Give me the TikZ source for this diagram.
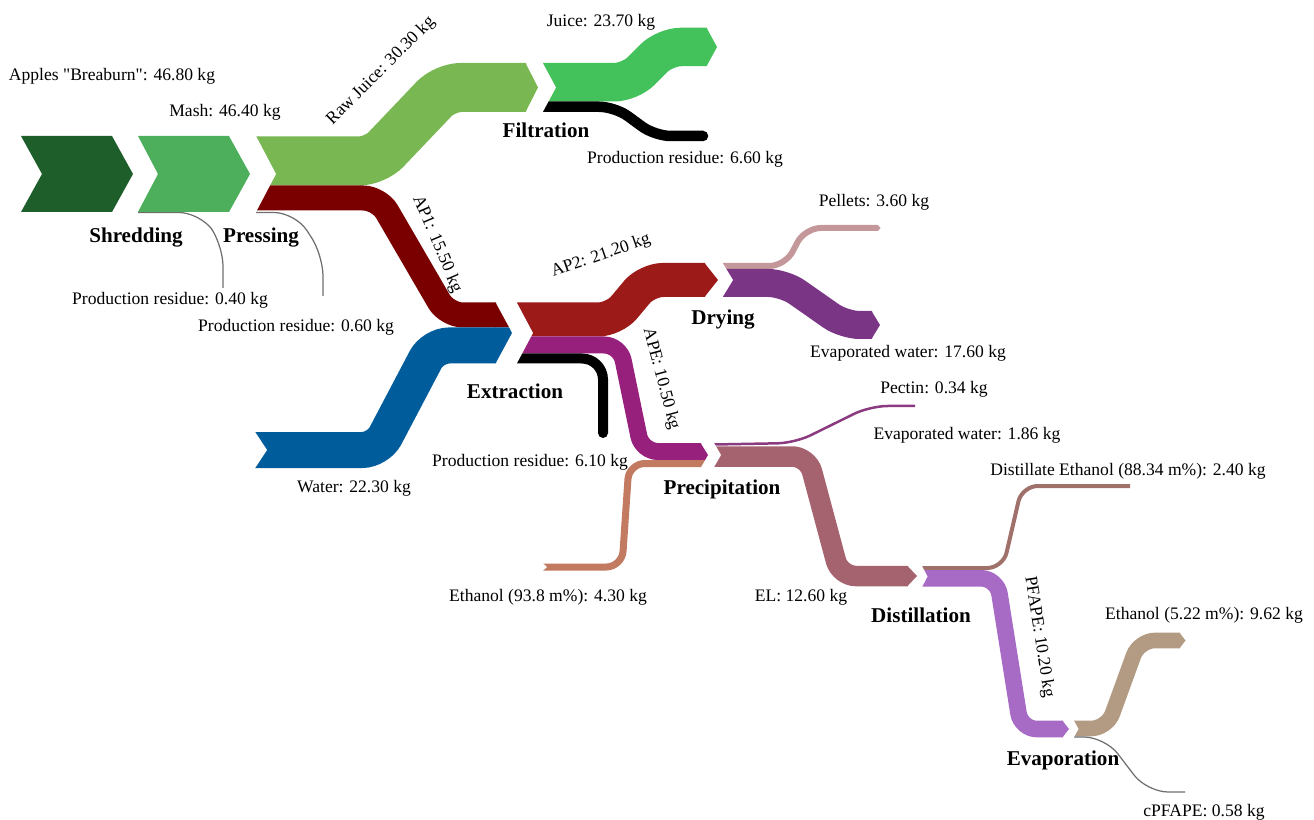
\documentclass[tikz,border=0pt]{standalone}
\usepackage{fontspec}
\setmainfont{Liberation Serif}

\definecolor{apples}{HTML}{1E5E2B}
\definecolor{mash}{HTML}{4DAF5C}
\definecolor{rawjuice}{HTML}{78B751}
\definecolor{juice}{HTML}{43C15A}
\definecolor{apone}{HTML}{7A0000}
\definecolor{water}{HTML}{005C9B}
\definecolor{aptwo}{HTML}{9C1A18}
\definecolor{ape}{HTML}{98207D}
\definecolor{pellets}{HTML}{C4989A}
\definecolor{evapw}{HTML}{7A3585}
\definecolor{etoh}{HTML}{C27A60}
\definecolor{el}{HTML}{A5626F}
\definecolor{distil}{HTML}{A0716A}
\definecolor{pfape}{HTML}{A76BC6}
\definecolor{etohlow}{HTML}{B29A83}
\definecolor{pectin}{HTML}{8B3A7F}
\definecolor{thinres}{HTML}{6E6E6E}

\begin{document}
\begin{tikzpicture}[x=0.02cm,y=-0.02cm,
  flow/.style 2 args={draw=#1,line width=#2*0.02cm,rounded corners=9pt},
  thinflow/.style={draw=thinres,line width=0.7pt,rounded corners=12pt},
  lbl/.style={font=\fontsize{10}{12}\selectfont,inner sep=0pt},
  proc/.style={font=\bfseries\fontsize{12}{14}\selectfont,inner sep=0pt}]

  \useasboundingbox (0,0) rectangle (1314,820);

  % Shredding and pressing
  \fill[apples] (21,136) -- (112,136) -- (133,174) -- (112,212) -- (21,212) -- (42,174) -- cycle;
  \draw[thinflow] (138,212.5) -- (200,212.5) -- (223,245) -- (223,288);
  \fill[mash] (138,136) -- (229,136) -- (250,174) -- (229,212) -- (138,212) -- (158,174) -- cycle;
  \draw[thinflow] (256,212.5) -- (295,212.5) -- (323,255) -- (323,296);

  \draw[flow={rawjuice}{49}] (256,161) -- (375,161) -- (445,87.5) -- (526,87.5);
  \fill[rawjuice] (525.5,63) -- (538,87.5) -- (525.5,112) -- cycle;
  \draw[flow={apone}{25}] (256,198) -- (379,198) -- (447,315) -- (496,315);
  \draw[flow={water}{36}] (255,450) -- (378,450) -- (433,345.5) -- (496,345.5);
  \fill[apone] (495.5,302.5) -- (509.1,327.5) -- (495.5,327.5) -- cycle;
  \fill[water] (495.5,327.5) -- (509.1,327.5) -- (512,333) -- (495.5,363.5) -- cycle;

  % Filtration
  \draw[flow={juice}{38.5}] (543,82.25) -- (630,82.25) -- (665,47) -- (707,47);
  \fill[juice] (706.5,27.75) -- (717,47) -- (706.5,66.25) -- cycle;
  \draw[flow={black}{10.5}] (543,106.75) -- (615,106.75) -- (655,136) -- (703,136);
  \fill[black] (703,136) circle (5.25);

  % Extraction
  \draw[flow={aptwo}{34}] (517,319.5) -- (614,319.5) -- (647,280) -- (705,280);
  \fill[aptwo] (704.5,263) -- (718,280) -- (704.5,297) -- cycle;
  \draw[flow={ape}{17}] (517,345) -- (620,345) -- (642,451.5) -- (701,451.5);
  \draw[flow={black}{10},rounded corners=12pt] (517,358.5) -- (603,358.5) -- (603,433);
  \fill[black] (603,433) circle (5);

  % Drying
  \draw[flow={pellets}{6}] (723,266) -- (785,266) -- (805,228) -- (878,228);
  \fill[pellets] (877.5,225) -- (880.5,228) -- (877.5,231) -- cycle;
  \draw[flow={evapw}{28}] (723,283) -- (784,283) -- (844,325) -- (872,325);
  \fill[evapw] (871.5,311) -- (880,325) -- (871.5,339) -- cycle;

  % Precipitation
  \draw[flow={etoh}{7}] (543,567) -- (622,567) -- (629,463.5) -- (701,463.5);
  \fill[ape] (700.5,443) -- (708,455) -- (705.1,460) -- (700.5,460) -- cycle;
  \fill[etoh] (700.5,460) -- (705.1,460) -- (701,467) -- (700.5,467) -- cycle;
  \draw[flow={pectin}{2.5},rounded corners=10pt] (714,444.5) -- (795,443) -- (870,406) -- (915,406);
  \draw[flow={el}{20.5}] (714,456.5) -- (808,456.5) -- (840,576) -- (908,576);
  \fill[el] (907.5,566) -- (917,576) -- (907.5,586) -- cycle;

  % Distillation
  \draw[flow={distil}{4}] (922,568) -- (1003,568) -- (1022,486) -- (1130,486);
  \draw[flow={pfape}{16.6}] (922,578.3) -- (997,578.3) -- (1021,729) -- (1063,729);
  \fill[pfape] (1062.5,720.7) -- (1069,729) -- (1062.5,737.3) -- cycle;

  % Evaporation
  \draw[flow={etohlow}{15.6}] (1074,728.5) -- (1107,728.5) -- (1139,640.5) -- (1180,640.5);
  \fill[etohlow] (1179.5,632.7) -- (1185.5,640.5) -- (1179.5,648.3) -- cycle;
  \draw[thinflow] (1074,737) -- (1105,737) -- (1147,792) -- (1185,792);

  % notches
  \fill[white] (255.5,135) -- (276,174) -- (255.5,213) -- cycle;
  \fill[white] (254.5,431) -- (267,450) -- (254.5,469) -- cycle;
  \fill[white] (542.5,62.5) -- (556,87.5) -- (542.5,112.5) -- cycle;
  \fill[white] (516.5,302) -- (533,333) -- (516.5,364) -- cycle;
  \fill[white] (722,262) -- (733,280) -- (722,298) -- cycle;
  \fill[white] (542.5,563) -- (547,567) -- (542.5,571) -- cycle;
  \fill[white] (713.5,442) -- (721,455) -- (713.5,468) -- cycle;
  \fill[white] (921.5,565) -- (927.5,576.5) -- (921.5,588) -- cycle;
  \fill[white] (1073.5,720) -- (1078.5,729) -- (1073.5,738) -- cycle;

  % labels
  \node[lbl] (apl) at (112,76) {Apples \textquotedbl Breaburn\textquotedbl: 46.80 kg};
  \node[lbl] (mashl) at (225,112) {Mash: 46.40 kg};
  \node[lbl,rotate=45] (rawl) at (381,71) {Raw Juice: 30.30 kg};
  \node[proc] (shredding) at (136,238) {Shredding};
  \node[proc] (pressing) at (261,238) {Pressing};
  \node[lbl] (resa) at (170,300) {Production residue: 0.40 kg};
  \node[lbl] (resb) at (296,327) {Production residue: 0.60 kg};
  \node[lbl,rotate=-67] (aponel) at (437,244) {AP1: 15.50 kg};
  \node[lbl] (juicel) at (601,22) {Juice: 23.70 kg};
  \node[proc] (filtration) at (546,130) {Filtration};
  \node[lbl] (resc) at (685,159) {Production residue: 6.60 kg};
  \node[lbl] (pelletl) at (874,202) {Pellets: 3.60 kg};
  \node[lbl,rotate=19] (aptwol) at (601,256) {AP2: 21.20 kg};
  \node[proc] (drying) at (723,320) {Drying};
  \node[lbl] (evapa) at (908,353) {Evaporated water: 17.60 kg};
  \node[lbl] (pectinl) at (934,389) {Pectin: 0.34 kg};
  \node[lbl] (evapb) at (967,435) {Evaporated water: 1.86 kg};
  \node[proc] (extraction) at (515,391) {Extraction};
  \node[lbl] (resd) at (530,462) {Production residue: 6.10 kg};
  \node[lbl] (waterl) at (354,488) {Water: 22.30 kg};
  \node[lbl,rotate=-75] (apel) at (661,379) {APE: 10.50 kg};
  \node[proc] (precipitation) at (722,489) {Precipitation};
  \node[lbl] (etohinl) at (548,597) {Ethanol (93.8 m\%): 4.30 kg};
  \node[lbl] (ell) at (801,597) {EL: 12.60 kg};
  \node[lbl] (distl) at (1128,471) {Distillate Ethanol (88.34 m\%): 2.40 kg};
  \node[proc] (distillation) at (921,615) {Distillation};
  \node[lbl,rotate=-81] (pfapel) at (1039,637) {PFAPE: 10.20 kg};
  \node[lbl] (etohoutl) at (1204,615) {Ethanol (5.22 m\%): 9.62 kg};
  \node[proc] (evaporation) at (1063,760) {Evaporation};
  \node[lbl] (cpfapel) at (1204,812) {cPFAPE: 0.58 kg};

\end{tikzpicture}
\end{document}
